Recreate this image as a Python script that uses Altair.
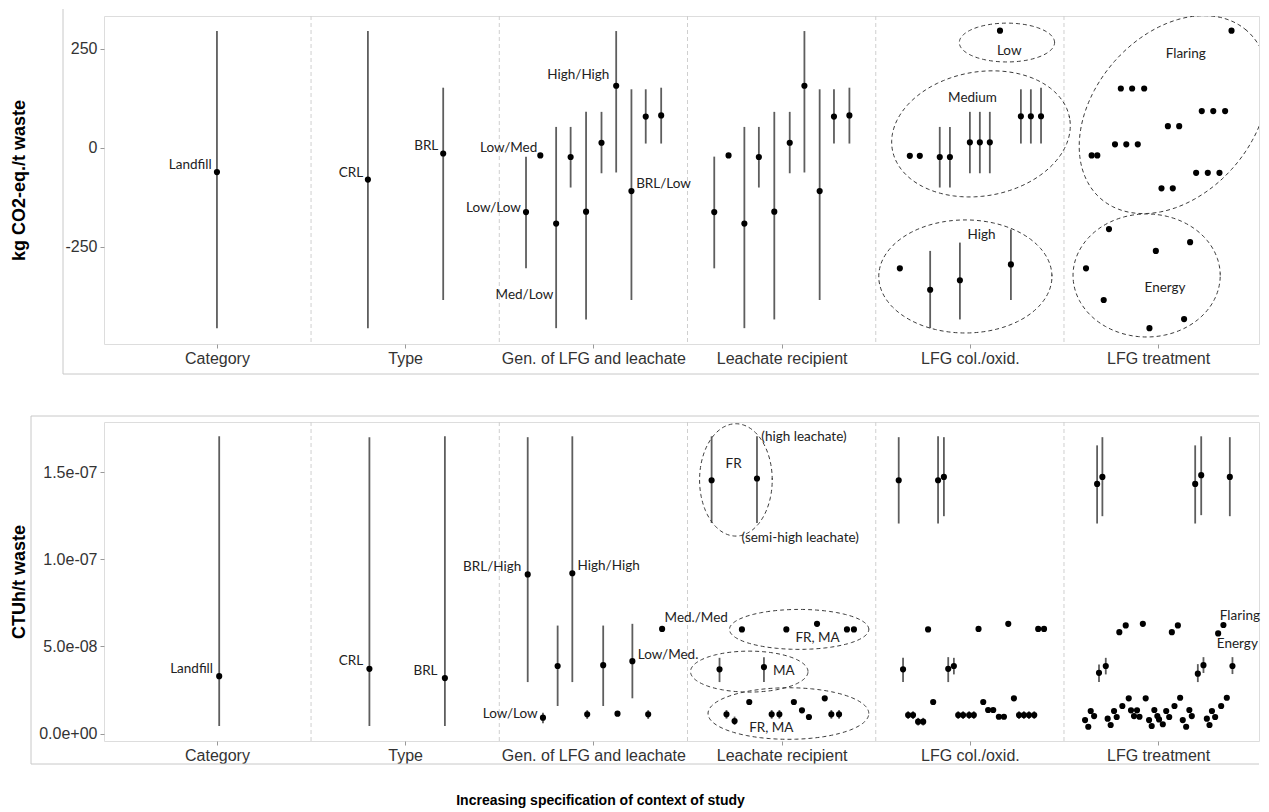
import json
import altair as alt
import pandas as pd

N = None

# ---------------- shared x layout ----------------
categories = ["Category", "Type", "Gen. of LFG and leachate", "Leachate recipient",
              "LFG col./oxid.", "LFG treatment"]
cat_pos = [1, 2, 3, 4, 5, 6]
separator_pos = [1.5, 2.5, 3.5, 4.5, 5.5]
X_DOMAIN = [0.4, 6.536]

# ---------------- top panel: kg CO2-eq./t waste ----------------
top_cat_x = [1.000, 1.802, 2.202]
top_cat_y = [-61, -80, -14]
top_cat_lo = [-455, -455, -384]
top_cat_hi = [295, 295, 152]

top_gen_x = [2.642, 2.718, 2.802, 2.879, 2.961, 3.043, 3.121, 3.202, 3.278, 3.360]
top_gen_y = [-162, -19, -191, -23, -161, 13, 157, -109, 79, 82]
top_gen_lo = [-304, N, -455, -100, -433, -64, -62, -384, 11, 11]
top_gen_hi = [-22, N, 53, 53, 91, 91, 295, 148, 148, 152]

top_lea_x = [3.642, 3.718, 3.802, 3.879, 3.961, 4.043, 4.121, 4.202, 4.278, 4.360]
top_lea_y = [-162, -19, -191, -23, -161, 13, 157, -109, 79, 82]
top_lea_lo = [-304, N, -455, -100, -433, -64, -62, -384, 11, 11]
top_lea_hi = [-22, N, 53, 53, 91, 91, 295, 148, 148, 152]

top_col_x = [5.160, 4.681, 4.734, 4.840, 4.894, 5.000, 5.053, 5.106, 5.271, 5.324, 5.378,
             4.628, 4.789, 4.947, 5.218]
top_col_y = [296, -20, -20, -23, -23, 14, 14, 14, 80, 80, 80, -304, -358, -334, -294]
top_col_lo = [N, N, N, -100, -100, -64, -64, -64, 11, 11, 11, N, -455, -433, -384]
top_col_hi = [N, N, N, 53, 53, 91, 91, 91, 148, 148, 152, N, -260, -239, -206]

top_trt_x = [5.647, 5.677, 5.802, 5.862, 5.926, 5.771, 5.831, 5.892, 6.052, 6.112, 6.018, 6.078,
             6.232, 6.293, 6.356, 6.202, 6.264, 6.326, 6.390,
             5.617, 5.739, 5.711, 5.988, 6.170, 5.954, 6.138]
top_trt_y = [-19, -19, 150, 150, 150, 9, 9, 9, 55, 55, -102, -102, 93, 93, 93, -63, -63, -63, 296,
             -304, -205, -384, -260, -238, -455, -432]

top_label_text = ["Landfill", "CRL", "BRL", "Low/Med", "Low/Low", "Med/Low", "High/High", "BRL/Low",
                  "Low", "Medium", "High", "Flaring", "Energy"]
top_label_x = [0.972, 1.777, 2.176, 2.702, 2.615, 2.787, 3.085, 3.227, 5.209, 5.014, 5.062, 6.147, 6.037]
top_label_y = [-43, -63, 5, 0, -151, -372, 183, -92, 245, 127, -220, 237, -354]
top_label_align = ["right", "right", "right", "right", "right", "right", "right", "left",
                   "center", "center", "center", "center", "center"]

# ellipse groups: centre, and two semi-axis vectors (x part, y part)
top_ell_id = ["Low", "Medium", "High", "Flaring", "Energy"]
top_ell_cx = [5.197, 5.059, 4.976, 6.083, 5.939]
top_ell_cy = [266, 35.4, -324.5, 84.1, -322]
top_ell_ax = [0.253, 0.471, 0.460, 0.387, 0.391]
top_ell_bx = [0, -0.0573, 0, -0.320, 0]
top_ell_ay = [0, 39.5, 0, 212.5, 0]
top_ell_by = [49, 154.2, 142.7, 131.5, 155.3]

top_yticks = [-250, 0, 250]
top_ytick_labels = ["-250", "0", "250"]
top_ydomain = [-495, 333]

# ---------------- bottom panel: CTUh/t waste (values in 1e-8) ----------------
bot_cat_x = [1.012, 1.810, 2.211]
bot_cat_y = [3.30, 3.72, 3.19]
bot_cat_lo = [0.44, 0.44, 0.44]
bot_cat_hi = [17.05, 17.00, 17.05]

bot_gen_x = [2.651, 2.732, 2.810, 2.888, 2.967, 3.052, 3.128, 3.207, 3.291, 3.365]
bot_gen_y = [9.13, 0.92, 3.88, 9.20, 1.11, 3.93, 1.15, 4.16, 1.11, 6.01]
bot_gen_lo = [2.96, 0.60, 1.59, 2.96, 0.85, 1.59, N, 2.03, 0.85, N]
bot_gen_hi = [17.00, 1.20, 6.20, 17.05, 1.35, 6.20, N, 6.30, 1.35, N]

bot_lea_x = [3.628, 3.869, 3.789, 4.025, 4.188, 4.347, 4.384, 3.670, 3.906,
             3.707, 3.750, 3.828, 3.947, 3.988, 4.065, 4.108, 4.145, 4.229, 4.264, 4.305]
bot_lea_y = [14.53, 14.63, 5.98, 5.98, 6.30, 5.98, 5.98, 3.69, 3.82,
             1.11, 0.73, 1.82, 1.11, 1.11, 1.82, 1.34, 0.96, 2.03, 1.11, 1.11]
bot_lea_lo = [12.08, 12.08, N, N, N, N, N, 2.96, 2.96,
              0.86, 0.50, N, 0.86, 0.86, N, N, N, N, 0.86, 0.86]
bot_lea_hi = [17.05, 17.05, N, N, N, N, N, 4.35, 4.39,
              1.36, 0.98, N, 1.36, 1.36, N, N, N, N, 1.36, 1.36]

bot_col_x = [4.622, 4.831, 4.862, 4.778, 5.046, 5.204, 5.363, 5.394, 4.645, 4.885, 4.915,
             4.672, 4.698, 4.725, 4.752, 4.805, 4.938, 4.964, 4.996, 5.021, 5.071, 5.097, 5.124,
             5.154, 5.181, 5.234, 5.261, 5.287, 5.314, 5.342]
bot_col_y = [14.53, 14.53, 14.72, 5.98, 6.01, 6.30, 6.01, 6.01, 3.69, 3.72, 3.88,
             1.07, 1.07, 0.69, 0.69, 1.82, 1.07, 1.07, 1.07, 1.07, 1.82, 1.36, 1.36,
             0.97, 0.97, 2.03, 1.07, 1.07, 1.07, 1.07]
bot_col_lo = [12.05, 12.05, 12.47, N, N, N, N, N, 2.96, 2.96, 3.40,
              0.85, 0.85, 0.47, 0.47, N, 0.85, 0.85, 0.85, 0.85, N, N, N,
              N, N, N, 0.85, 0.85, 0.85, 0.85]
bot_col_hi = [17.00, 17.05, 17.00, N, N, N, N, N, 4.35, 4.39, 4.35,
              1.29, 1.29, 0.91, 0.91, N, 1.29, 1.29, 1.29, 1.29, N, N, N,
              N, N, N, 1.29, 1.29, 1.29, 1.29]

bot_trt_x = [5.676, 5.704, 6.197, 6.229, 6.381,
             5.794, 5.828, 5.919, 6.073, 6.105, 6.319, 6.347,
             5.686, 5.722, 6.211, 6.241, 6.395]
bot_trt_y = [14.32, 14.72, 14.32, 14.82, 14.72,
             5.82, 6.21, 6.30, 5.82, 6.21, 5.75, 6.23,
             3.49, 3.88, 3.44, 3.93, 3.88]
bot_trt_lo = [12.05, 12.47, 12.05, 12.53, 12.47, N, N, N, N, N, N, N, 2.96, 3.40, 2.96, 3.48, 3.42]
bot_trt_hi = [16.53, 17.00, 16.53, 17.05, 17.00, N, N, N, N, N, N, N, 3.97, 4.35, 3.99, 4.39, 4.39]

bot_trt_low_x = [5.612, 5.629, 5.642, 5.660, 5.732, 5.748, 5.766, 5.780, 5.810, 5.844, 5.856, 5.872,
                 5.888, 5.901, 5.934, 5.952, 5.966, 5.980, 5.996, 6.005, 6.025, 6.043, 6.059, 6.087,
                 6.117, 6.131, 6.149, 6.166, 6.179, 6.259, 6.273, 6.286, 6.303, 6.335, 6.365]
bot_trt_low_y = [0.78, 0.40, 1.30, 1.01, 0.86, 0.50, 1.30, 0.96, 1.59, 2.03, 1.34, 1.01,
                 1.34, 0.97, 2.03, 0.78, 0.44, 1.36, 1.01, 0.82, 0.54, 1.30, 0.96, 1.59,
                 2.06, 0.78, 0.40, 1.36, 1.01, 0.86, 0.50, 1.30, 0.96, 1.59, 2.06]

bot_label_text = ["Landfill", "CRL", "BRL", "BRL/High", "High/High", "Med./Med", "Low/Med.", "Low/Low",
                  "FR", "(high leachate)", "(semi-high leachate)", "FR, MA", "MA", "FR, MA",
                  "Flaring", "Energy"]
bot_label_x = [0.979, 1.777, 2.172, 2.617, 2.916, 3.378, 3.236, 2.704,
               3.745, 3.892, 3.787, 4.191, 4.012, 3.945, 6.328, 6.312]
bot_label_y = [3.69, 4.16, 3.59, 9.56, 9.60, 6.64, 4.49, 1.11,
               15.45, 17.01, 11.23, 5.46, 3.59, 0.31, 6.74, 5.12]
bot_label_align = ["right", "right", "right", "right", "left", "left", "left", "right",
                   "center", "left", "left", "center", "center", "center", "left", "left"]

bot_ell_id = ["FR", "FR, MA upper", "MA", "FR, MA lower"]
bot_ell_cx = [3.757, 4.093, 3.828, 4.036]
bot_ell_cy = [14.55, 5.98, 3.56, 1.157]
bot_ell_ax = [0.193, 0.370, 0.312, 0.427]
bot_ell_bx = [0, 0, 0, 0]
bot_ell_ay = [0, 0, 0, 0]
bot_ell_by = [3.22, 1.145, 1.174, 1.478]

bot_yticks = [0, 5e-08, 1e-07, 1.5e-07]
bot_ytick_labels = ["0.0e+00", "5.0e-08", "1.0e-07", "1.5e-07"]
bot_ydomain = [-0.418e-08, 17.87e-08]
E8 = 1e-08

# ---------------- build tables ----------------
top_pts = pd.DataFrame({
    "x": top_cat_x + top_gen_x + top_lea_x + top_col_x + top_trt_x,
    "y": top_cat_y + top_gen_y + top_lea_y + top_col_y + top_trt_y,
    "lo": top_cat_lo + top_gen_lo + top_lea_lo + top_col_lo + [N] * len(top_trt_x),
    "hi": top_cat_hi + top_gen_hi + top_lea_hi + top_col_hi + [N] * len(top_trt_x),
})
bot_pts = pd.DataFrame({
    "x": bot_cat_x + bot_gen_x + bot_lea_x + bot_col_x + bot_trt_x + bot_trt_low_x,
    "y": bot_cat_y + bot_gen_y + bot_lea_y + bot_col_y + bot_trt_y + bot_trt_low_y,
    "lo": bot_cat_lo + bot_gen_lo + bot_lea_lo + bot_col_lo + bot_trt_lo + [N] * len(bot_trt_low_x),
    "hi": bot_cat_hi + bot_gen_hi + bot_lea_hi + bot_col_hi + bot_trt_hi + [N] * len(bot_trt_low_x),
})
for c in ["y", "lo", "hi"]:
    bot_pts[c] = pd.to_numeric(bot_pts[c]) * E8
    top_pts[c] = pd.to_numeric(top_pts[c])

top_lab = pd.DataFrame({"text": top_label_text, "x": top_label_x, "y": top_label_y, "align": top_label_align})
bot_lab = pd.DataFrame({"text": bot_label_text, "x": bot_label_x,
                        "y": [v * E8 for v in bot_label_y], "align": bot_label_align})
top_ell = pd.DataFrame({"id": top_ell_id, "cx": top_ell_cx, "cy": top_ell_cy, "ax": top_ell_ax,
                        "bx": top_ell_bx, "ay": top_ell_ay, "by": top_ell_by})
bot_ell = pd.DataFrame({"id": bot_ell_id, "cx": bot_ell_cx, "cy": [v * E8 for v in bot_ell_cy],
                        "ax": bot_ell_ax, "bx": bot_ell_bx, "ay": [v * E8 for v in bot_ell_ay],
                        "by": [v * E8 for v in bot_ell_by]})
sep_df = pd.DataFrame({"x": separator_pos})
one = pd.DataFrame({"k": [0]})

W = 1155
AX_FONT = "Liberation Sans"
NOTE_FONT = "Lato"
INK = "#333333"


def lookup_expr(labels, values):
    return f"{json.dumps(labels)}[indexof({json.dumps(values)}, datum.value)]"


def panel(pts, lab, ell, ydom, yticks, ylabels, ytitle, height, frame, xtitle):
    xs = alt.Scale(domain=X_DOMAIN, nice=False, zero=False)
    ys = alt.Scale(domain=ydom, nice=False, zero=False)
    xaxis_kw = dict(values=cat_pos, labelExpr=lookup_expr(categories, cat_pos), grid=False,
                    domain=False, tickSize=4, tickColor="#999999", labelPadding=2,
                    labelFont=AX_FONT, labelFontSize=16, labelColor=INK, labelOverlap=False,
                    labelLimit=400)
    if xtitle:
        xaxis_kw.update(title=xtitle, titleFont="Liberation Sans Narrow, Arial Narrow, Liberation Sans",
                        titleFontWeight="bold", titleFontSize=14, titleColor="#000000",
                        titleX=496, titleY=59, titleAlign="center", titleBaseline="middle")
    else:
        xaxis_kw.update(title=None)
    xaxis = alt.Axis(**xaxis_kw)
    yaxis = alt.Axis(values=yticks, labelExpr=lookup_expr(ylabels, yticks), title=ytitle,
                     grid=False, domain=False, tickSize=4, tickColor="#999999", labelPadding=3,
                     labelFont=AX_FONT, labelFontSize=16, labelColor=INK,
                     titleFont=AX_FONT, titleFontSize=18, titleFontWeight="bold", titleColor="#000000",
                     minExtent=64, maxExtent=64, titlePadding=12)

    def X(f):
        return alt.X(f, type="quantitative", scale=xs, axis=xaxis)

    def Y(f):
        return alt.Y(f, type="quantitative", scale=ys, axis=yaxis)

    seps = alt.Chart(sep_df).mark_rule(color="#cfcfcf", strokeDash=[4, 3], strokeWidth=1).encode(x=X("x"))
    bars = alt.Chart(pts.dropna(subset=["lo", "hi"])).mark_rule(
        color="#5e5e5e", strokeWidth=1.8).encode(x=X("x"), y=Y("lo"), y2=alt.Y2("hi"))
    dots = alt.Chart(pts).mark_circle(size=38, color="#000000", opacity=1).encode(x=X("x"), y=Y("y"))
    ells = alt.Chart(ell).transform_calculate(
        ts="sequence(0, 6.36, 0.04)"
    ).transform_flatten(["ts"]).transform_calculate(
        ex="datum.cx + datum.ax * cos(datum.ts) + datum.bx * sin(datum.ts)",
        ey="datum.cy + datum.ay * cos(datum.ts) + datum.by * sin(datum.ts)",
    ).mark_line(color="#3a3a3a", strokeDash=[4, 3], strokeWidth=1, clip=True).encode(
        x=X("ex"), y=Y("ey"), detail="id:N", order="ts:Q")
    texts = []
    for a in ["left", "right", "center"]:
        sub = lab[lab["align"] == a]
        if len(sub):
            texts.append(alt.Chart(sub).mark_text(
                align=a, baseline="middle", font=NOTE_FONT, fontSize=13.5, color="#222222"
            ).encode(x=X("x"), y=Y("y"), text="text:N"))
    frames = []
    fx, ft, fb, draw_top = frame
    fc = "#c8c8c8"
    frames.append(alt.Chart(one).mark_rule(color=fc, strokeWidth=1).encode(
        x=alt.value(fx), y=alt.value(ft), y2=alt.value(fb)))
    frames.append(alt.Chart(one).mark_rule(color=fc, strokeWidth=1).encode(
        x=alt.value(fx), x2=alt.value(W), y=alt.value(fb)))
    if draw_top:
        frames.append(alt.Chart(one).mark_rule(color=fc, strokeWidth=1).encode(
            x=alt.value(fx), x2=alt.value(W), y=alt.value(ft)))
    return alt.layer(seps, bars, dots, ells, *texts, *frames).properties(width=W, height=height)


top = panel(top_pts, top_lab, top_ell, top_ydomain, top_yticks, top_ytick_labels,
            "kg CO2-eq./t waste", 328, (-41, -7, 358, False), None)
bottom = panel(bot_pts, bot_lab, bot_ell, bot_ydomain, bot_yticks, bot_ytick_labels,
               "CTUh/t waste", 319, (-73, -6, 342, True),
               "Increasing specification of context of study")

chart = alt.vconcat(top, bottom, spacing=40).properties(
    padding={"left": 1, "top": 0, "right": 0, "bottom": 0}
).configure_view(stroke="#a0a0a0", strokeWidth=1.2).configure(background="#ffffff")

chart.save("out.html", embed_options={"renderer": "svg", "actions": False})
